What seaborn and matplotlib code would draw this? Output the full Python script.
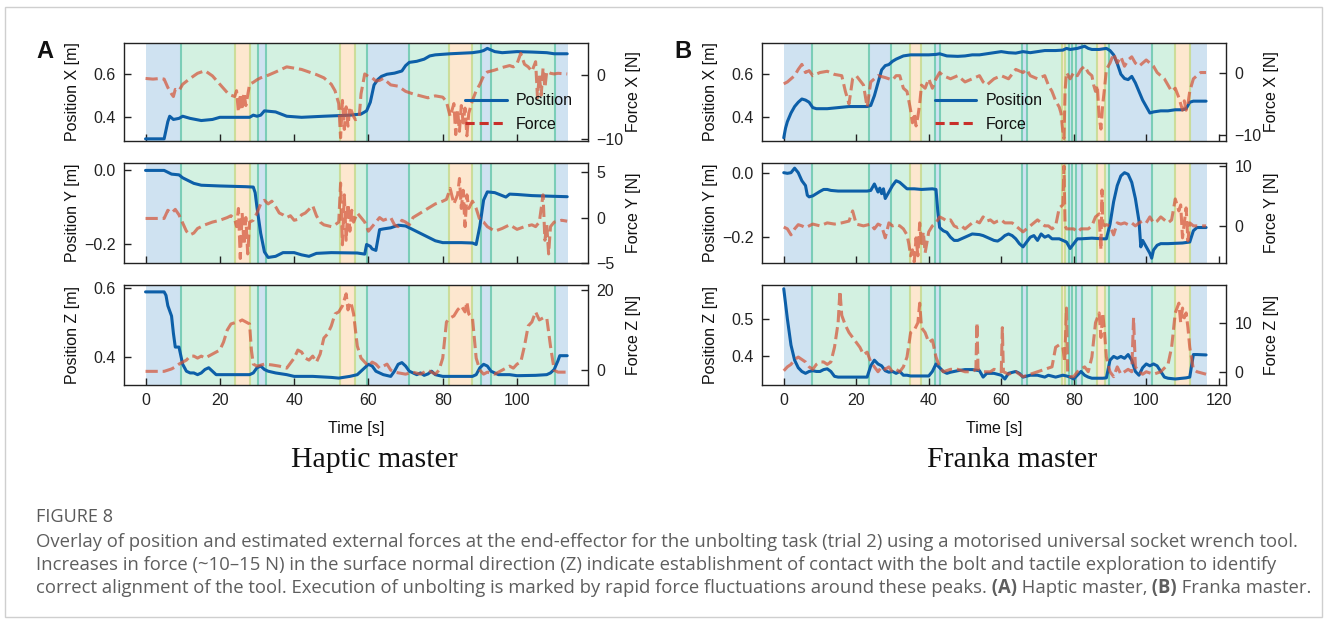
import numpy as np
import pandas as pd
import matplotlib
matplotlib.use("Agg")
import matplotlib.pyplot as plt
import seaborn as sns
from matplotlib.lines import Line2D
from matplotlib.patches import Rectangle

# ---------------- data (time [s], value) ----------------
A_posx = [(0,0.30),(5,0.30),(5.5,0.34),(6,0.38),(6.5,0.405),(7.5,0.39),(9,0.395),(10,0.405),(12,0.395),(15,0.385),
          (18,0.39),(20,0.40),(28,0.40),(29,0.41),(30,0.405),(31,0.41),(32,0.43),(35,0.425),(38,0.405),(42,0.40),
          (48,0.405),(55,0.41),(58,0.415),(59.5,0.43),(60.5,0.47),(61.5,0.55),(62.5,0.575),(63.5,0.59),(65,0.60),(67,0.605),
          (69,0.615),(70,0.64),(71,0.655),(73,0.66),(75,0.67),(76.5,0.685),(78,0.69),(82,0.695),(88,0.70),(90,0.705),
          (91,0.71),(92,0.72),(94,0.705),(96,0.70),(100,0.705),(104,0.703),(108,0.70),(110,0.695),(113.5,0.695)]
A_fx = [(0,-0.6),(2,-0.7),(4,-0.6),(5,-0.7),(6,-2.0),(7,-3.0),(7.5,-3.4),(8,-2.3),(9,-2.5),(10,-1.5),(12,-0.6),(14,0.2),
        (16,0.6),(18,-0.2),(20,-1.5),(22,-2.8),(23,-3.2),(24,-3.4),(24.5,-2.5),(25,-5.8),(25.5,-3.0),(26,-5.5),(26.5,-2.8),
        (27,-4.8),(27.5,-3.2),(28,-1.5),(29,-1.2),(30,-0.8),(31,-0.5),(33,-0.1),(35,0.4),(38,1.2),(40,1.0),(42,0.8),(44,0.4),
        (46,0.0),(48,-0.5),(50,-1.5),(51,-2.5),(52,-4.5),(52.5,-9.8),(53,-4.0),(53.5,-8.5),(54,-5.0),(54.5,-8.0),(55,-5.0),
        (56,-6.5),(56.5,-7.0),(57.5,-6.7),(58,-3.0),(59,0.1),(60,-0.3),(61,-0.5),(62,-1.0),(63,-0.9),(64,-0.6),(66,-1.6),
        (68,-1.8),(70,-2.6),(72,-3.0),(74,-3.3),(76,-3.6),(78,-3.3),(80,-3.5),(81,-4.2),(82,-6.5),(83,-4.5),(83.5,-9.3),
        (84,-5.5),(84.5,-8.8),(85,-4.8),(85.5,-7.5),(86,-5.2),(86.5,-9.5),(87,-6.0),(88,-4.0),(89,-2.5),(90,-1.5),(91,-0.2),
        (92,0.4),(94,0.7),(96,1.1),(98,1.4),(99,1.2),(100,1.7),(101,3.3),(102,1.6),(103,1.2),(104,0.5),(105,2.0),(105.5,-3.6),
        (106,0.0),(106.5,-3.2),(107,1.0),(107.5,-2.0),(108,0.5),(109,0.2),(110,0.1),(111,0.2),(113.5,0.1)]

A_posy = [(0,0.0),(5,0.0),(6,-0.005),(7,-0.01),(9,-0.012),(10,-0.02),(11,-0.025),(13,-0.035),(15,-0.04),(20,-0.042),
          (27,-0.044),(29,-0.045),(29.5,-0.06),(30,-0.1),(31,-0.17),(32,-0.22),(33,-0.235),(35,-0.232),(37,-0.222),(40,-0.222),
          (42,-0.228),(44,-0.232),(46,-0.224),(50,-0.222),(57,-0.223),(59,-0.226),(59.5,-0.2),(60.5,-0.205),(61,-0.212),
          (62,-0.216),(63,-0.16),(64,-0.158),(66,-0.155),(68,-0.148),(70,-0.15),(72,-0.16),(75,-0.175),(78,-0.19),(80,-0.195),
          (85,-0.195),(88,-0.196),(89,-0.2),(90,-0.15),(91,-0.08),(92,-0.058),(94,-0.06),(96,-0.068),(97,-0.072),(98,-0.064),
          (100,-0.065),(104,-0.068),(110,-0.07),(113.5,-0.071)]
A_fy = [(0,-0.1),(5,-0.1),(6,0.8),(7,0.5),(8,0.9),(9,0.3),(10,-0.6),(11,-1.5),(12,-1.9),(13,-1.7),(14,-1.2),(16,-0.8),
        (18,-0.5),(20,-0.3),(22,0.0),(23,0.2),(24,-0.2),(24.5,-1.0),(25,1.0),(25.5,-4.5),(26,0.5),(26.5,-3.0),(27,0.0),
        (27.5,-4.0),(28,-0.5),(29,-0.3),(30,0.5),(31,1.5),(32,1.9),(33,1.5),(34,1.8),(35,1.2),(36,0.5),(37,0.3),(38,0.0),
        (39,0.2),(40,-0.3),(41,-0.2),(42,0.3),(43,0.5),(44,0.9),(45,1.3),(46,0.2),(47,-0.5),(48,-0.8),(50,-1.0),(51,-0.8),
        (52,-0.5),(52.5,3.8),(53,-3.0),(53.5,2.5),(54,-2.5),(54.5,1.5),(55,-1.5),(55.5,0.8),(56,-0.5),(57,0.5),(58,0.0),
        (59,-0.5),(60,-1.5),(61,-1.0),(62,-0.5),(63,0.0),(64,-0.3),(66,0.0),(67,-0.8),(68,-1.0),(69,-0.3),(70,-0.5),(71,-0.8),
        (72,0.0),(74,0.5),(76,1.0),(78,1.5),(80,1.8),(81,2.0),(82,3.2),(83,1.5),(84,2.5),(84.5,4.3),(85,1.0),(85.5,3.0),
        (86,-1.0),(86.5,2.5),(87,1.0),(88,1.8),(89,1.0),(90,-0.3),(91,-0.5),(92,-1.0),(94,-1.5),(96,-1.2),(98,-0.8),(100,-1.3),
        (102,-1.0),(104,-0.8),(105,-1.0),(106,-0.5),(107,2.5),(107.5,-2.5),(108,-0.8),(108.5,-4.0),(109,-1.0),(110,-0.5),
        (112,-0.3),(113.5,-0.4)]

A_posz = [(0,0.59),(5,0.59),(5.5,0.58),(6,0.55),(7,0.52),(7.5,0.47),(8,0.43),(9,0.43),(10,0.38),(11,0.36),(12,0.355),
          (13,0.355),(14,0.35),(15,0.355),(16,0.365),(17,0.37),(18,0.36),(19,0.35),(20,0.35),(25,0.35),(28,0.35),(29,0.355),
          (30,0.37),(31,0.375),(32,0.365),(33,0.36),(35,0.355),(38,0.35),(40,0.345),(45,0.345),(50,0.342),(52,0.34),(55,0.345),
          (57,0.35),(58,0.36),(59,0.37),(60,0.38),(61,0.375),(62,0.36),(63,0.355),(64,0.35),(66,0.345),(67,0.36),(68,0.38),
          (69,0.385),(70,0.375),(71,0.36),(72,0.355),(73,0.35),(74,0.355),(75,0.348),(76,0.352),(77,0.36),(78,0.35),(80,0.345),
          (85,0.345),(88,0.345),(89,0.35),(90,0.37),(91,0.38),(92,0.375),(93,0.36),(95,0.35),(98,0.35),(100,0.347),(105,0.348),
          (108,0.35),(109,0.355),(110,0.365),(111,0.39),(111.5,0.405),(113.5,0.405)]
A_fz = [(0,-0.3),(5,-0.3),(6,0.0),(7,0.3),(8,0.8),(9,1.5),(10,2.0),(11,2.5),(12,3.5),(13,3.5),(14,3.0),(15,3.5),(16,3.0),
        (17,3.5),(18,4.0),(19,4.5),(20,5.0),(21,7.0),(22,10.0),(23,11.5),(24,11.8),(25,12.0),(26,12.5),(27,12.0),(28,11.5),
        (28.5,5.0),(29,1.5),(30,1.0),(32,1.5),(34,1.3),(36,1.0),(38,0.5),(40,3.0),(41,5.0),(42,4.5),(43,3.0),(44,2.5),(45,3.5),
        (46,2.0),(47,4.0),(48,8.0),(49,9.0),(50,11.0),(51,14.0),(52,14.5),(53,16.0),(54,19.0),(54.5,15.0),(55,17.0),(55.5,16.0),
        (56,14.0),(57,6.0),(58,3.0),(59,2.0),(60,1.0),(61,2.0),(62,1.5),(63,0.5),(64,1.0),(65,1.5),(66,0.0),(67,-0.5),(70,-1.0),
        (72,-0.5),(74,-1.0),(76,0.0),(77,-0.5),(78,-1.0),(79,0.0),(80,3.0),(81,12.0),(82,13.0),(83,13.5),(84,15.0),(85,16.0),
        (86,14.5),(86.5,17.0),(87,14.0),(88,13.0),(89,3.0),(90,0.0),(91,-1.0),(92,-0.5),(94,-1.0),(96,0.0),(98,1.0),(99,0.5),
        (100,1.5),(101,2.0),(102,6.0),(103,11.0),(104,12.0),(105,14.5),(106,12.5),(107,13.0),(108,13.0),(109,6.0),(110,0.0),
        (111,-0.5),(113.5,-0.5)]

B_posx = [(0,0.305),(0.5,0.35),(1,0.38),(1.5,0.40),(2,0.42),(3,0.45),(4,0.47),(5,0.485),(6,0.48),(7,0.47),(8,0.445),
          (9,0.44),(12,0.44),(15,0.445),(18,0.45),(23,0.45),(24,0.455),(25,0.50),(26,0.56),(27,0.62),(28,0.64),(29,0.645),
          (30,0.66),(31,0.67),(33,0.685),(35,0.69),(40,0.69),(42,0.692),(43,0.695),(45,0.685),(48,0.683),(50,0.685),(52,0.69),
          (54,0.69),(56,0.695),(58,0.70),(60,0.705),(62,0.70),(64,0.698),(66,0.705),(68,0.70),(70,0.705),(72,0.71),(75,0.71),
          (77,0.712),(78,0.72),(79,0.715),(81,0.72),(83,0.73),(84,0.72),(85,0.715),(87,0.715),(89,0.72),(90,0.71),(91,0.69),
          (92,0.65),(93,0.60),(94,0.58),(95,0.575),(96,0.59),(97,0.56),(98,0.52),(99,0.48),(100,0.45),(101,0.42),(102,0.425),
          (104,0.43),(106,0.43),(108,0.435),(110,0.435),(111,0.44),(112,0.47),(113,0.475),(116.5,0.475)]
B_fx = [(0,-1.8),(1,-1.5),(2,-1.0),(3,-0.5),(4,0.5),(5,1.3),(6,0.0),(7,0.3),(8,-0.5),(10,0.0),(12,0.2),(14,-0.3),(16,-0.5),
        (17,-3.0),(18,-5.0),(19,-1.0),(20,-0.5),(22,-2.0),(23,-5.5),(24,-1.5),(25,-1.0),(26,-0.5),(28,-0.8),(30,-1.2),(31,-0.5),
        (32,-0.5),(33,-2.5),(34,-3.0),(35,-6.0),(35.5,-8.0),(36,-6.5),(36.5,-8.5),(37,-7.0),(37.5,-5.0),(38,-2.0),(39,-2.5),
        (40,-1.0),(41,-2.5),(42,-1.0),(43,0.0),(44,-0.5),(46,-1.0),(48,-0.5),(50,-1.5),(52,-1.0),(54,-0.5),(55,-1.5),(56,-2.0),
        (58,-1.0),(60,-0.5),(62,-1.0),(64,0.5),(66,0.0),(67,0.5),(68,-0.5),(70,-1.0),(72,-0.5),(73,-2.0),(74,-3.0),(75,-4.5),
        (76,-5.5),(76.5,-6.5),(77,-9.5),(77.3,-10.5),(77.6,-3.0),(78,0.0),(79,-1.0),(80,0.0),(81,-0.5),(82,0.5),(83,1.0),(84,0.0),
        (85,-0.5),(85.5,-2.0),(86,-3.0),(86.5,-2.0),(87,-7.0),(87.5,-9.0),(88,-5.0),(88.5,-2.5),(89,0.5),(90,1.5),(91,3.0),
        (92,1.5),(93,2.5),(94,1.0),(95,2.0),(96,2.5),(97,1.5),(98,1.0),(99,1.5),(100,2.0),(101,1.5),(102,1.0),(103,0.0),
        (104,-0.5),(105,-1.0),(106,-2.0),(107,-3.0),(108,-2.5),(109,-4.0),(110,-6.0),(110.5,-4.5),(111,-6.0),(111.5,-5.0),
        (112,-3.0),(113,-1.0),(114,-0.5),(115,0.0),(116.5,0.0)]

B_posy = [(0,0.0),(1,-0.002),(2,0.0),(3,0.014),(4,0.0),(5,-0.025),(6,-0.04),(6.5,-0.07),(7,-0.075),(8,-0.072),(9,-0.065),
          (10,-0.058),(11,-0.052),(12,-0.052),(13,-0.055),(15,-0.057),(20,-0.057),(23,-0.057),(24,-0.055),(25,-0.035),
          (26,-0.06),(26.5,-0.048),(27,-0.065),(27.5,-0.05),(28,-0.08),(29,-0.06),(30,-0.04),(31,-0.025),(32,-0.03),(33,-0.04),
          (34,-0.05),(36,-0.05),(38,-0.052),(41,-0.05),(42,-0.052),(42.5,-0.12),(43,-0.17),(44,-0.18),(45,-0.185),(46,-0.2),
          (47,-0.21),(48,-0.21),(49,-0.205),(50,-0.2),(52,-0.19),(54,-0.192),(55,-0.195),(56,-0.2),(58,-0.21),(59,-0.212),
          (60,-0.205),(61,-0.195),(62,-0.19),(63,-0.195),(64,-0.205),(65,-0.22),(66,-0.23),(67,-0.215),(68,-0.2),(69,-0.195),
          (70,-0.21),(71,-0.19),(72,-0.2),(73,-0.195),(74,-0.205),(76,-0.205),(77,-0.21),(78,-0.215),(79,-0.235),(80,-0.22),
          (81,-0.205),(82,-0.205),(85,-0.203),(88,-0.205),(89,-0.205),(90,-0.16),(91,-0.09),(92,-0.04),(93,-0.01),(94,0.0),
          (95,-0.005),(96,-0.03),(97,-0.08),(98,-0.15),(98.5,-0.23),(99,-0.21),(99.5,-0.22),(100,-0.23),(101,-0.25),
          (101.5,-0.265),(102,-0.24),(103,-0.225),(104,-0.22),(106,-0.22),(110,-0.218),(112,-0.215),(113,-0.18),(114,-0.17),
          (116.5,-0.17)]
B_fy = [(0,-0.2),(1,-0.5),(2,-1.5),(3,-0.5),(4,0.2),(5,0.0),(6,-0.3),(8,0.3),(10,0.0),(12,0.5),(14,0.3),(16,0.5),(18,0.8),
        (19,2.5),(20,0.3),(22,0.0),(24,0.3),(25,-0.5),(26,0.3),(27,0.0),(28,-2.0),(29,0.5),(30,0.0),(31,0.2),(32,0.0),(33,-0.5),
        (34,-1.5),(34.5,-3.0),(35,-5.0),(35.5,-4.0),(36,-6.0),(36.5,-2.0),(37,-5.0),(37.5,0.5),(38,-3.5),(38.5,-1.0),(39,-4.5),
        (40,-1.0),(41,0.0),(42,0.5),(43,1.5),(44,1.2),(45,0.8),(46,1.0),(47,0.0),(48,-0.3),(49,0.0),(50,-0.5),(51,0.0),(52,0.5),
        (53,0.8),(54,0.5),(55,1.5),(56,0.8),(57,1.0),(58,0.5),(59,0.8),(60,1.0),(61,0.5),(62,0.5),(63,0.5),(64,0.0),(65,-0.5),
        (66,-1.0),(67,-0.5),(68,0.0),(69,0.5),(70,1.0),(71,0.5),(72,0.0),(73,0.0),(74,-0.5),(75,0.0),(76,3.0),(77,3.5),
        (77.3,10.0),(77.6,0.0),(78,-0.5),(80,-0.5),(81,-1.0),(82,-0.5),(84,-0.5),(85,0.0),(86,1.5),(87,2.0),(87.5,-4.0),
        (87.8,6.0),(88,0.5),(88.5,0.0),(89,0.2),(90,0.0),(91,-1.5),(92,0.5),(93,0.3),(94,0.5),(95,0.2),(96,0.5),(97,0.0),
        (98,0.5),(99,0.8),(100,0.5),(101,1.5),(102,0.5),(103,0.8),(104,1.5),(105,1.0),(106,0.5),(107,1.0),(108,4.5),(109,2.5),
        (109.5,3.5),(110,-2.0),(111,3.0),(111.5,-2.5),(112,0.5),(113,0.0),(114,0.0),(116.5,0.0)]

B_posz = [(0,0.58),(0.5,0.54),(1,0.50),(1.5,0.465),(2,0.43),(3,0.39),(4,0.37),(5,0.36),(6,0.355),(7,0.36),(8,0.362),
          (9,0.36),(10,0.36),(11,0.365),(12,0.367),(13,0.36),(14,0.347),(15,0.345),(20,0.345),(23,0.345),(24,0.375),(25,0.39),
          (26,0.38),(27,0.375),(28,0.362),(29,0.358),(30,0.36),(31,0.355),(32,0.36),(33,0.35),(34,0.35),(35,0.348),(40,0.348),
          (41,0.36),(42,0.38),(43,0.37),(44,0.36),(45,0.355),(46,0.358),(48,0.362),(50,0.365),(52,0.365),(54,0.362),(55,0.345),
          (56,0.355),(58,0.355),(60,0.35),(61,0.34),(62,0.355),(64,0.36),(65,0.355),(66,0.345),(68,0.35),(70,0.35),(72,0.345),
          (73,0.35),(75,0.345),(77,0.35),(78,0.348),(79,0.345),(80,0.34),(81,0.35),(82,0.36),(83,0.35),(84,0.345),(85,0.342),
          (88,0.342),(89,0.343),(90,0.39),(91,0.40),(92,0.395),(93,0.40),(94,0.395),(95,0.405),(96,0.39),(97,0.36),(98,0.35),
          (99,0.37),(100,0.38),(101,0.375),(102,0.38),(103,0.375),(104,0.36),(105,0.345),(106,0.342),(108,0.34),(110,0.342),
          (111,0.343),(112,0.345),(113,0.405),(114,0.405),(116.5,0.404)]
B_fz = [(0,0.2),(1,1.0),(2,1.5),(3,2.5),(4,3.0),(5,2.5),(6,2.0),(7,1.0),(8,0.5),(9,1.5),(10,2.0),(11,2.0),(12,1.5),(13,2.0),
        (14,5.0),(15,10.0),(15.5,16.5),(16,11.5),(17,9.5),(18,8.0),(19,7.0),(20,6.0),(21,5.0),(22,3.5),(23,4.0),(24,2.0),
        (25,1.0),(26,0.0),(27,1.0),(28,0.5),(29,1.0),(30,0.0),(31,0.5),(32,0.0),(33,1.0),(34,3.0),(35,8.0),(36,8.5),(37,10.0),
        (37.5,14.0),(38,9.0),(39,8.0),(40,6.0),(41,6.5),(42,3.0),(43,1.0),(44,0.0),(46,0.5),(48,0.5),(50,0.0),(52,0.0),
        (53,0.5),(53.3,10.0),(53.6,0.5),(55,0.0),(57,0.0),(58,0.5),(60,0.0),(60.3,9.0),(60.6,0.0),(62,-0.5),(64,0.0),(66,-1.0),
        (68,-0.5),(70,0.0),(72,0.5),(74,1.0),(75,5.0),(76,5.5),(77,5.0),(77.5,2.0),(78,13.0),(78.3,0.0),(79,-1.0),(80,-1.0),
        (81,0.0),(82,0.5),(83,1.0),(84,0.0),(85,3.0),(86,10.0),(87,12.0),(87.5,7.0),(88,12.0),(88.5,8.0),(89,3.0),(90,0.0),
        (91,-1.0),(92,1.0),(93,-0.5),(94,0.0),(95,0.5),(96,0.0),(96.5,11.0),(97,1.0),(98,0.0),(99,-0.5),(100,0.0),(102,-0.5),
        (104,0.0),(106,1.5),(107,5.0),(108,12.0),(109,14.0),(109.5,10.0),(110,13.0),(110.5,11.0),(111,12.0),(111.5,9.0),
        (112,5.0),(113,0.5),(114,0.0),(116.5,-0.5)]

# task phases: boundaries [s] and phase type (m = move, c = contact, u = unbolt)
A_phase_edges = [0, 9.6, 24.1, 28.2, 30.3, 32.4, 52.3, 56.4, 59.6, 71.0, 81.7, 88.0, 90.4, 93.1, 110.1, 113.8]
A_phase_kind = ['m', 'c', 'u', 'c', 'm', 'c', 'u', 'c', 'm', 'c', 'u', 'c', 'm', 'c', 'm']
B_phase_edges = [0, 7.7, 23.6, 29.5, 34.8, 37.8, 41.6, 43.0, 65.6, 67.0, 76.8, 77.5, 78.6, 79.6, 80.5, 82.4,
                 86.5, 88.7, 89.7, 101.7, 108.0, 112.0, 116.7]
B_phase_kind = ['m', 'c', 'm', 'c', 'u', 'c', 'm', 'c', 'm', 'c', 'u', 'c', 'm', 'c', 'm', 'c', 'u', 'c', 'm', 'c', 'u', 'm']

axis_names = ['X', 'Y', 'Z']
panel_titles = ['Haptic master', 'Franka master']
panel_letters = ['A', 'B']
legend_labels = ['Position', 'Force']
caption_head = 'FIGURE 8'
caption_lines = [
    'Overlay of position and estimated external forces at the end-effector for the unbolting task (trial 2) using a motorised universal socket wrench tool.',
    'Increases in force (~10\u201315 N) in the surface normal direction (Z) indicate establishment of contact with the bolt and tactile exploration to identify',
]
caption_last = [('correct alignment of the tool. Execution of unbolting is marked by rapid force fluctuations around these peaks.', False),
                (' (A)', True), (' Haptic master,', False), (' (B)', True), (' Franka master.', False)]

# ---------------- style ----------------
sns.set_style("ticks")
plt.rcParams['font.family'] = ['Liberation Sans', 'DejaVu Sans']
plt.rcParams.update({
    'xtick.direction': 'in', 'ytick.direction': 'in',
    'xtick.major.size': 5, 'ytick.major.size': 5,
    'xtick.major.width': 1.0, 'ytick.major.width': 1.0,
    'xtick.major.pad': 6, 'ytick.major.pad': 6,
    'axes.linewidth': 1.0, 'axes.edgecolor': '#222222',
    'xtick.color': '#222222', 'ytick.color': '#222222',
    'xtick.labelsize': 11.5, 'ytick.labelsize': 11.5, 'axes.labelsize': 11.5,
    'text.color': '#111111', 'axes.labelcolor': '#111111',
})

W, H = 1328, 624
fig = plt.figure(figsize=(W / 100, H / 100), dpi=100)
fig.patch.set_facecolor('white')

POS_C = '#0d5fa8'
FORCE_C = '#d4553a'
SHADE = {'m': '#cfe2f1', 'c': '#d3f1e1', 'u': '#fde7cf'}
EDGE_C = '#72cbb2'
EDGE_U = '#c9db93'

panels = {
    'A': dict(left=124, right=588, data=[(A_posx, A_fx), (A_posy, A_fy), (A_posz, A_fz)],
              edges=A_phase_edges, kinds=A_phase_kind, xticks=[0, 20, 40, 60, 80, 100], xlim=(-5.8, 119.1),
              ylims=[((0.29, 0.745), (-10.3, 4.9)), ((-0.25, 0.02), (-5.0, 6.0)), ((0.32, 0.61), (-3.7, 21.2))],
              yticks=[([0.4, 0.6], [-10, 0]), ([-0.2, 0.0], [-5, 0, 5]), ([0.4, 0.6], [0, 20])],
              legend_x=0.735),
    'B': dict(left=762, right=1226, data=[(B_posx, B_fx), (B_posy, B_fy), (B_posz, B_fz)],
              edges=B_phase_edges, kinds=B_phase_kind, xticks=[0, 20, 40, 60, 80, 100, 120], xlim=(-6.0, 122.0),
              ylims=[((0.29, 0.745), (-10.9, 4.7)), ((-0.28, 0.03), (-6.2, 10.5)), ((0.324, 0.59), (-2.7, 17.7))],
              yticks=[([0.4, 0.6], [-10, 0]), ([-0.2, 0.0], [0, 10]), ([0.4, 0.5], [0, 10])],
              legend_x=0.372),
}
rows_px = [(43, 141), (163, 263), (285, 385)]

for pi, (key, P) in enumerate(panels.items()):
    x0 = P['left'] / W
    w = (P['right'] - P['left']) / W
    for r, (top, bot) in enumerate(rows_px):
        ax = fig.add_axes([x0, 1 - bot / H, w, (bot - top) / H])
        ax.set_facecolor('white')
        # phases
        e, k = P['edges'], P['kinds']
        for i in range(len(k)):
            ax.axvspan(e[i], e[i + 1], color=SHADE[k[i]], lw=0, zorder=0)
        for i in range(1, len(e) - 1):
            c = EDGE_U if ('u' in (k[i - 1], k[i])) else EDGE_C
            ax.axvline(e[i], color=c, lw=1.5, alpha=0.9, zorder=0.5)
        pos, frc = P['data'][r]
        dpos = pd.DataFrame(pos, columns=['t', 'v'])
        dfrc = pd.DataFrame(frc, columns=['t', 'v'])
        sns.lineplot(data=dpos, x='t', y='v', ax=ax, color=POS_C, lw=2.2, estimator=None, sort=False,
                     legend=False, zorder=3)
        ax2 = ax.twinx()
        sns.lineplot(data=dfrc, x='t', y='v', ax=ax2, color=FORCE_C, lw=2.2, alpha=0.72, estimator=None,
                     sort=False, legend=False, linestyle=(0, (4, 1.6)), zorder=3)
        ax.set_xlim(*P['xlim'])
        ax.set_ylim(*P['ylims'][r][0])
        ax2.set_ylim(*P['ylims'][r][1])
        ax.set_xticks(P['xticks'])
        ax.set_yticks(P['yticks'][r][0])
        ax2.set_yticks(P['yticks'][r][1])
        ax.tick_params(axis='x', which='both', bottom=True, top=False)
        ax2.tick_params(axis='y', right=True)
        for sp in ax2.spines.values():
            sp.set_visible(False)
        for sp in ax.spines.values():
            sp.set_visible(True)
            sp.set_linewidth(1.0)
            sp.set_color('#222222')
        ax.set_ylabel(f'Position {axis_names[r]} [m]')
        ax.yaxis.set_label_coords(-0.095, 0.5)
        ax2.set_ylabel(f'Force {axis_names[r]} [N]')
        ax2.yaxis.set_label_coords(1.082, 0.5)
        if r < 2:
            ax.tick_params(labelbottom=False)
            ax.set_xlabel('')
        else:
            ax.set_xlabel('Time [s]')
            ax.xaxis.set_label_coords(0.5, -0.36)
        if r == 0:
            handles = [Line2D([], [], color=POS_C, lw=2.2),
                       Line2D([], [], color='#c8302a', lw=2.2, linestyle=(0, (3, 1.6)))]
            ax2.legend(handles, legend_labels, loc='center left', bbox_to_anchor=(P['legend_x'], 0.29),
                       frameon=False, fontsize=11.5, handlelength=2.6, handletextpad=0.6, labelspacing=0.55,
                       borderpad=0, borderaxespad=0)
    fig.text((P['left'] - 79) / W, 1 - 52 / H, panel_letters[pi], fontsize=17, fontweight='bold',
             ha='center', va='center')
    fig.text((P['left'] + P['right']) / 2 / W + (374 - 356) / W, 1 - 460 / H, panel_titles[pi],
             family=['Liberation Serif', 'DejaVu Serif'], fontsize=21.5, ha='center', va='center')

# border
fig.add_artist(Rectangle((5 / W, 1 - 617 / H), (1322 - 5) / W, (617 - 7) / H, transform=fig.transFigure,
                         fill=False, edgecolor='#cfcfcf', lw=1.0))

# caption
CAP_C = '#5e5e5e'
CAP_F = ['Open Sans', 'DejaVu Sans']
fig.canvas.draw()
rend = fig.canvas.get_renderer()
probe = fig.text(0, 0, caption_lines[0], fontsize=12, family=CAP_F)
wpx = probe.get_window_extent(renderer=rend).width
probe.remove()
cap_size = 12 * (1292 - 36) / wpx
fig.text(36 / W, 1 - 517 / H, caption_head, fontsize=cap_size * 0.98, family=CAP_F, color='#5a5a5a',
         ha='left', va='center')
for i, line in enumerate(caption_lines):
    fig.text(36 / W, 1 - (542 + 23 * i) / H, line, fontsize=cap_size, family=CAP_F, color=CAP_C,
             ha='left', va='center')
xpx = 36
ypx = 542 + 23 * 2
for txt, bold in caption_last:
    t = fig.text(xpx / W, 1 - ypx / H, txt, fontsize=cap_size, family=CAP_F, color=CAP_C,
                 fontweight='bold' if bold else 'normal', ha='left', va='center')
    bb = t.get_window_extent(renderer=rend)
    xpx = bb.x1

fig.savefig('out.png', dpi=100, facecolor='white')
